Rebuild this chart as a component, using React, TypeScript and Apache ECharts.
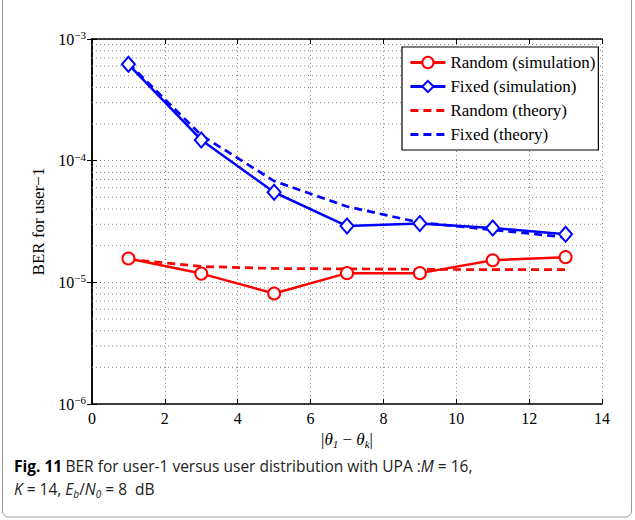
import React, { useEffect, useRef } from "react";
import * as echarts from "echarts";

const xValues = [1, 3, 5, 7, 9, 11, 13];
const randomSim = [1.57e-5, 1.18e-5, 8.1e-6, 1.19e-5, 1.19e-5, 1.52e-5, 1.61e-5];
const fixedSim = [6.2e-4, 1.48e-4, 5.5e-5, 2.9e-5, 3.05e-5, 2.8e-5, 2.48e-5];
const randomTheory = [1.55e-5, 1.35e-5, 1.3e-5, 1.29e-5, 1.28e-5, 1.27e-5, 1.27e-5];
const fixedTheory = [6.3e-4, 1.62e-4, 6.8e-5, 4.2e-5, 3.1e-5, 2.7e-5, 2.35e-5];
const seriesNames = ["Random (simulation)", "Fixed (simulation)", "Random (theory)", "Fixed (theory)"];
const decades = [-6, -5, -4];
const minorMultipliers = [2, 3, 4, 5, 6, 7, 8, 9];
const xRange = [0, 14];

const SERIF = "Liberation Serif";
const SANS = "Open Sans";
const RED = "#ff0000";
const BLUE = "#0000ff";
const GRID_LINE = { color: "#8a8a8a", width: 1, type: [1, 3] as any };

export default function App() {
  const ref = useRef<HTMLDivElement>(null);
  useEffect(() => {
    if (!ref.current) return;
    const chart = echarts.init(ref.current, null, { renderer: "svg" });
    const pair = (ys: number[]) => xValues.map((x, i) => [x, ys[i]]);
    const minorValues: number[] = [];
    decades.forEach((d) => minorMultipliers.forEach((m) => minorValues.push(m * Math.pow(10, d))));
    const minorSeries = minorValues.map((v) => ({
      type: "line",
      data: [
        [xRange[0], v],
        [xRange[1], v],
      ],
      symbol: "none",
      silent: true,
      lineStyle: GRID_LINE,
      z: 1,
    }));
    const expLabel = (v: number) => {
      const e = Math.round(Math.log10(v));
      return `{b|10}{s|${e < 0 ? "\u2212" + Math.abs(e) : e}}`;
    };
    const option: any = {
      animation: false,
      backgroundColor: "#ffffff",
      grid: { left: 92, right: 33, top: 39, bottom: 116, show: false },
      legend: {
        orient: "vertical",
        left: 402,
        top: 47,
        data: [
          { name: seriesNames[0] },
          { name: seriesNames[1] },
          { name: seriesNames[2], itemStyle: { opacity: 0 } },
          { name: seriesNames[3], itemStyle: { opacity: 0 } },
        ],
        itemWidth: 35,
        itemHeight: 14,
        itemGap: 7,
        padding: [7, 3, 7, 7],
        borderColor: "#000",
        borderWidth: 1.2,
        backgroundColor: "#fff",
        lineStyle: { width: 2.8 },
        textStyle: { fontFamily: SERIF, fontSize: 17, color: "#000" },
      },
      xAxis: [
        {
          type: "value",
          min: xRange[0],
          max: xRange[1],
          interval: 2,
          axisLine: { show: true, lineStyle: { color: "#000", width: 1.5 } },
          axisTick: { show: true, inside: true, length: 5, lineStyle: { color: "#000" } },
          axisLabel: { fontFamily: SERIF, fontSize: 16, color: "#000", margin: 6 },
          splitLine: { show: true, lineStyle: GRID_LINE },
          name: "{t||}{g|\u03b8}{sub|1}{t| \u2212 }{g|\u03b8}{sub|k}{t||}",
          nameLocation: "middle",
          nameGap: 24,
          nameTextStyle: {
            rich: {
              t: { fontFamily: SERIF, fontSize: 17, color: "#000", lineHeight: 20 },
              g: { fontFamily: SERIF, fontSize: 17, fontStyle: "italic", color: "#000", lineHeight: 20 },
              sub: { fontFamily: SERIF, fontSize: 11, fontStyle: "italic", color: "#000", lineHeight: 20, verticalAlign: "bottom", padding: [6, 0, 0, 0] },
            },
          },
        },
        {
          type: "value",
          position: "top",
          min: xRange[0],
          max: xRange[1],
          interval: 2,
          axisLine: { show: true, lineStyle: { color: "#000", width: 1.5 } },
          axisTick: { show: true, inside: true, length: 5, lineStyle: { color: "#000" } },
          axisLabel: { show: false },
          splitLine: { show: false },
        },
      ],
      yAxis: [
        {
          type: "log",
          logBase: 10,
          min: 1e-6,
          max: 1e-3,
          interval: 1,
          axisLine: { show: true, lineStyle: { color: "#000", width: 1.5 } },
          axisTick: { show: true, inside: true, length: 5, lineStyle: { color: "#000" } },
          axisLabel: {
            formatter: expLabel,
            margin: 6,
            rich: {
              b: { fontFamily: SERIF, fontSize: 16, color: "#000" },
              s: { fontFamily: SERIF, fontSize: 11, color: "#000", verticalAlign: "top", padding: [0, 0, 8, 0] },
            },
          },
          splitLine: { show: true, lineStyle: GRID_LINE },
          name: "BER for user\u22121",
          nameLocation: "middle",
          nameGap: 36,
          nameTextStyle: { fontFamily: SERIF, fontSize: 17, color: "#000" },
        },
        {
          type: "log",
          logBase: 10,
          min: 1e-6,
          max: 1e-3,
          interval: 1,
          position: "right",
          axisLine: { show: true, lineStyle: { color: "#000", width: 1.5 } },
          axisTick: { show: true, inside: true, length: 5, lineStyle: { color: "#000" } },
          axisLabel: { show: false },
          splitLine: { show: false },
        },
      ],
      series: [
        ...minorSeries,
        {
          name: seriesNames[0],
          type: "line",
          data: pair(randomSim),
          symbol: "emptyCircle",
          symbolSize: 12,
          itemStyle: { color: RED, borderWidth: 2.4 },
          lineStyle: { color: RED, width: 2.5 },
          z: 4,
        },
        {
          name: seriesNames[1],
          type: "line",
          data: pair(fixedSim),
          symbol: "emptyDiamond",
          symbolSize: [13, 15],
          itemStyle: { color: BLUE, borderWidth: 2.4 },
          lineStyle: { color: BLUE, width: 2.5 },
          z: 4,
        },
        {
          name: seriesNames[2],
          type: "line",
          data: pair(randomTheory),
          symbol: "none",
          itemStyle: { color: RED },
          lineStyle: { color: RED, width: 2.7, type: [8, 5] },
          z: 3,
        },
        {
          name: seriesNames[3],
          type: "line",
          data: pair(fixedTheory),
          symbol: "none",
          itemStyle: { color: BLUE },
          lineStyle: { color: BLUE, width: 2.7, type: [8, 5] },
          z: 3,
        },
      ],
      graphic: [
        {
          type: "rect",
          z: -10,
          shape: { x: 2.5, y: -10, width: 629, height: 527, r: 6 },
          style: { fill: "none", stroke: "#9a9a9a", lineWidth: 1 },
        },
        {
          type: "text",
          left: 14,
          top: 458,
          style: {
            text: "{b|Fig. 11} {n|BER for user-1 versus user distribution with UPA :}{i|M}{n| = 16,}",
            rich: {
              b: { fontFamily: SANS, fontSize: 15.5, fontWeight: "bold", fill: "#000" },
              n: { fontFamily: SANS, fontSize: 15.5, fill: "#222" },
              i: { fontFamily: SANS, fontSize: 15.5, fontStyle: "italic", fill: "#222" },
            },
          },
        },
        {
          type: "text",
          left: 14,
          top: 481,
          style: {
            text: "{i|K}{n| = 14, }{i|E}{sub|b}{n|/}{i|N}{sub|0}{n| = 8  dB}",
            rich: {
              n: { fontFamily: SANS, fontSize: 15.5, fill: "#222", lineHeight: 20 },
              i: { fontFamily: SANS, fontSize: 15.5, fontStyle: "italic", fill: "#222", lineHeight: 20 },
              sub: { fontFamily: SANS, fontSize: 10, fontStyle: "italic", fill: "#222", lineHeight: 20, verticalAlign: "bottom", padding: [5, 0, 0, 0] },
            },
          },
        },
      ],
    };
    chart.setOption(option);
    return () => chart.dispose();
  }, []);
  return <div ref={ref} style={{ width: 635, height: 520, position: "absolute", left: 0, top: 0 }} />;
}
